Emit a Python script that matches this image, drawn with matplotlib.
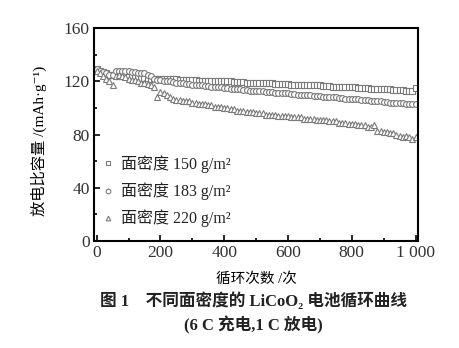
import matplotlib.pyplot as plt
from matplotlib.ticker import MultipleLocator

# cycle number (every 10 cycles)
cycles = list(range(0, 1001, 10))

cap_150 = [
    129, 128, 127, 126, 125, 125, 124, 124, 124, 124, 123,
    123, 123, 123, 122.5, 122.5, 122.5, 122, 122, 122, 122,
    122, 121.5, 121.5, 121.5, 121.5, 121, 121, 121, 121, 121,
    121, 120.5, 120.5, 120.5, 120.5, 120, 120, 120, 120, 120,
    120, 120, 119.5, 119.5, 119.5, 119.5, 119, 119, 119, 119,
    119, 119, 118.5, 118.5, 118.5, 118, 118, 118, 118, 118,
    117.5, 117.5, 117.5, 117.5, 117, 117, 117, 117, 117, 117,
    116.5, 116.5, 116.5, 116, 116, 116, 116, 115.5, 115.5, 115.5,
    115.5, 115, 115, 115, 115, 114.5, 114.5, 114.5, 114, 114,
    114, 114, 113.5, 113.5, 113.5, 113.5, 113, 113, 113, 115,
]

cap_183 = [
    129, 128, 127, 126, 125, 125, 128, 128, 128, 127.5, 127.5,
    127, 127, 126.5, 126, 126, 125, 124, 122, 121, 121,
    120.5, 120, 120, 119.5, 119, 118.5, 118.5, 118, 118, 117.5,
    117.5, 117, 117, 116.5, 116.5, 116, 116, 115.5, 115.5, 115,
    115, 114.5, 114.5, 114, 114, 113.5, 113.5, 113, 113, 113,
    112.5, 112.5, 112, 112, 112, 111.5, 111.5, 111, 111, 111,
    110.5, 110.5, 110, 110, 110, 109.5, 109.5, 109, 109, 109,
    108.5, 108.5, 108, 108, 108, 107.5, 107.5, 107, 107, 107,
    106.5, 106.5, 106, 106, 106, 105.5, 105.5, 105, 105, 104.5,
    104.5, 104, 104, 104, 103.5, 103.5, 103, 103, 103, 103,
]

cap_220 = [
    128, 126, 124, 122, 120, 117, 124, 125, 124, 123, 122,
    121, 121, 120, 119, 119, 118, 117, 116, 108, 112,
    111, 110, 108, 107, 106, 106, 105, 105, 105, 104,
    104, 103, 103, 103, 102, 102, 101, 101, 101, 100,
    100, 99, 99, 98, 98, 98, 97, 97, 97, 96,
    96, 96, 95, 95, 95, 95, 94, 94, 94, 94,
    93, 93, 93, 93, 92, 92, 92, 92, 91, 91,
    91, 91, 90, 90, 90, 89, 89, 89, 88, 88,
    88, 87, 87, 87, 86, 86, 87, 83, 83, 82,
    82, 81, 81, 80, 79, 78, 79, 78, 77, 78,
]

labels = ["面密度 150 g/m²", "面密度 183 g/m²", "面密度 220 g/m²"]
markers = ["s", "o", "^"]

# serif for Latin/digits, CJK glyphs fall through to Noto
SERIF = ["Liberation Serif", "DejaVu Serif", "Noto Sans CJK SC"]
plt.rcParams["font.family"] = SERIF
plt.rcParams["text.color"] = "#222222"

fig = plt.figure(figsize=(4.59, 3.48), dpi=100)
ax = fig.add_axes([0.205, 0.307, 0.706, 0.613])

for y, m, lab in zip([cap_150, cap_183, cap_220], markers, labels):
    ax.plot(cycles, y, linestyle="none", marker=m, markersize=4.2,
            markerfacecolor="white", markeredgecolor="#7a7a7a",
            markeredgewidth=0.8, label=lab)

ax.set_xlim(-8, 1008)
ax.set_ylim(0, 160)
ax.xaxis.set_major_locator(MultipleLocator(200))
ax.xaxis.set_minor_locator(MultipleLocator(100))
ax.yaxis.set_major_locator(MultipleLocator(40))
ax.yaxis.set_minor_locator(MultipleLocator(20))
ax.set_xticks([0, 200, 400, 600, 800, 1000])
ax.set_xticklabels(["0", "200", "400", "600", "800", "1 000"])
ax.tick_params(which="both", direction="in", top=False, right=False,
               width=1.2, labelsize=12.5, pad=3, labelcolor="#333333")
ax.tick_params(which="major", length=4)
ax.tick_params(which="minor", length=2.5)
for sp in ax.spines.values():
    sp.set_linewidth(1.5)

ax.set_xlabel("循环次数 /次", fontsize=10.5, labelpad=8)
ax.set_ylabel("放电比容量 /(mAh·g⁻¹)", fontsize=11)
ax.yaxis.set_label_coords(-0.145, 0.47)

ax.legend(loc="upper left", bbox_to_anchor=(-0.025, 0.47), frameon=False,
          handletextpad=0.3, handlelength=1.0, labelspacing=0.6,
          markerscale=0.8, prop={"size": 11.5})

fig.text(0.553, 0.135, "图 1    不同面密度的 LiCoO₂ 电池循环曲线",
         ha="center", va="center", fontsize=12, weight="bold")
fig.text(0.553, 0.064, "(6 C 充电,1 C 放电)",
         ha="center", va="center", fontsize=12, weight="bold")

fig.savefig("out.png", dpi=100)
